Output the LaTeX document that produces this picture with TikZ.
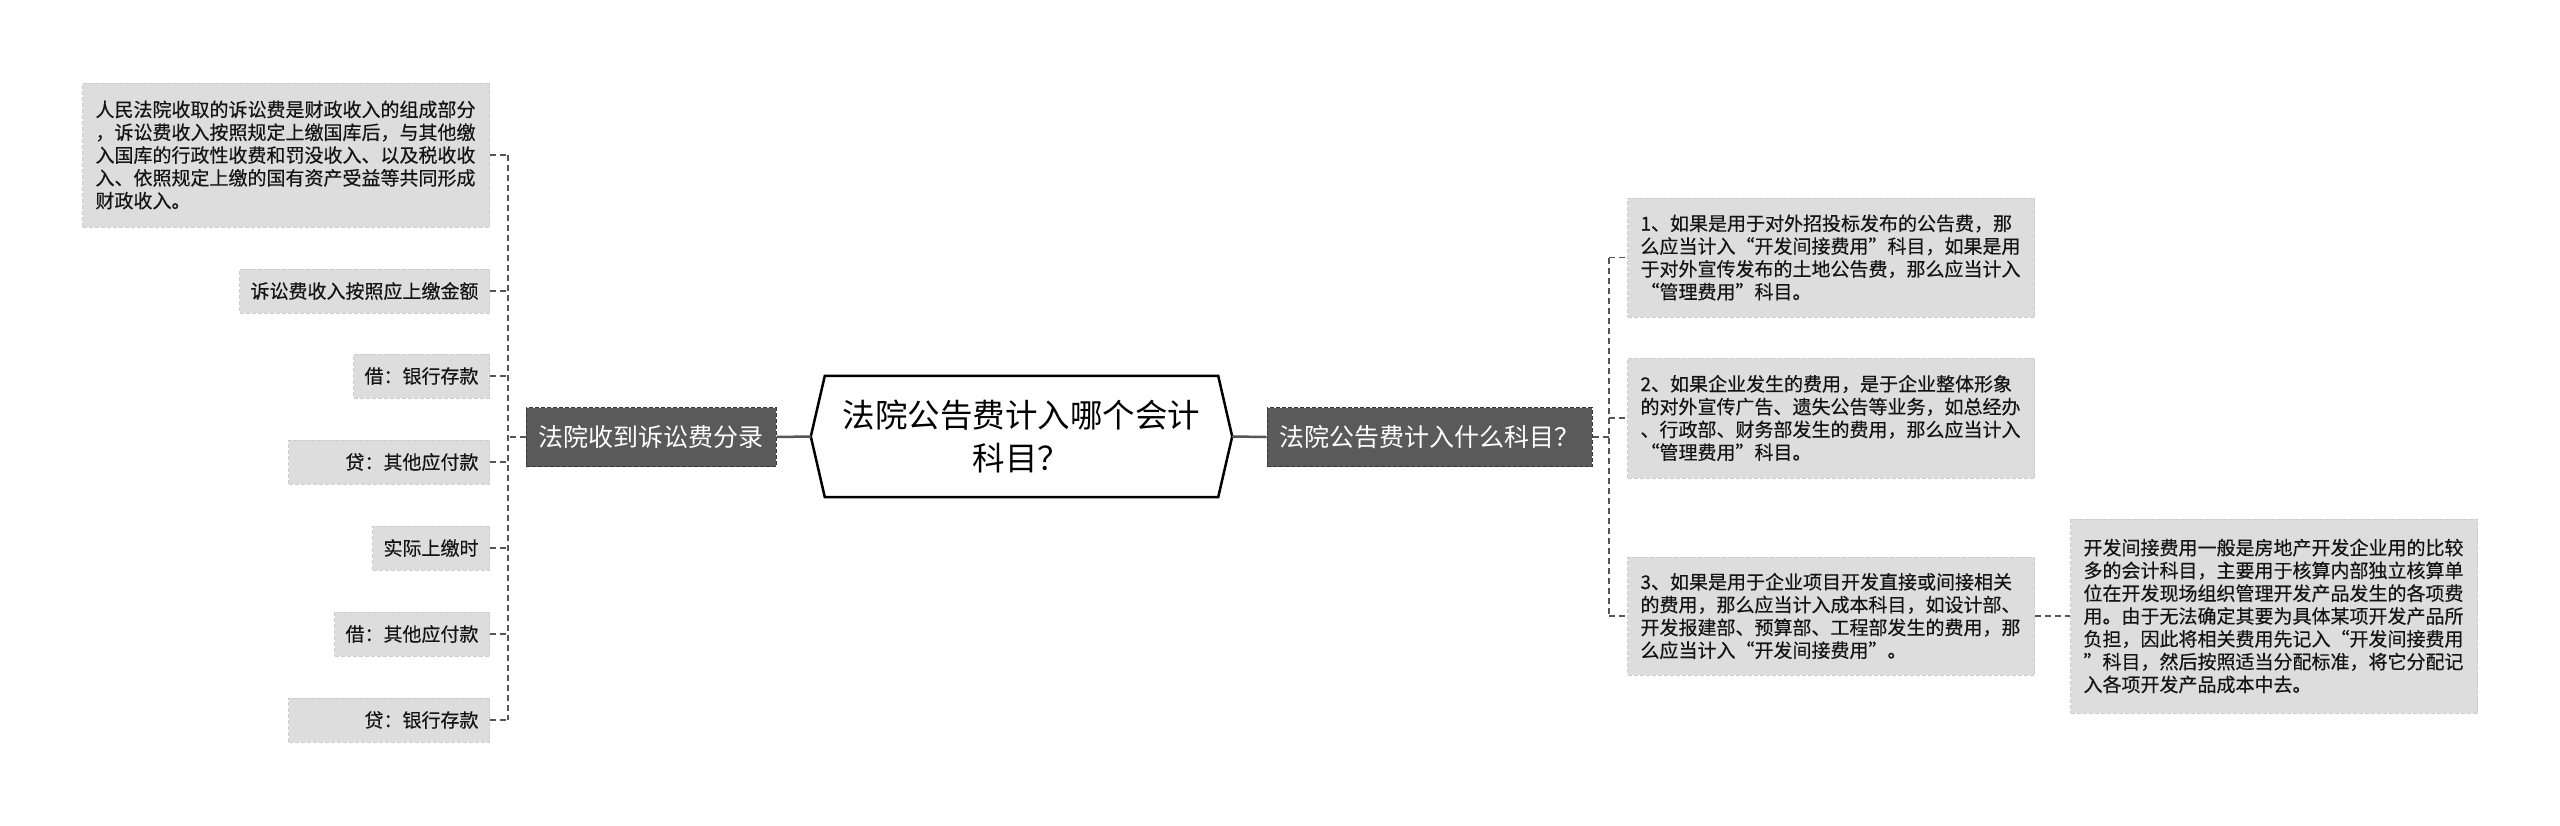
\documentclass[tikz,border=0pt]{standalone}
\usepackage{fontspec}
\newfontfamily\cjk{Noto Sans CJK SC}
\newfontfamily\cjkleaf[FakeBold=0.35]{Noto Sans CJK SC}
\usetikzlibrary{calc}
\definecolor{leaffill}{RGB}{221,221,221}
\definecolor{leafline}{RGB}{204,204,204}
\definecolor{mainfill}{RGB}{90,90,90}
\definecolor{mainline}{RGB}{55,55,55}
\definecolor{linkcol}{RGB}{85,85,85}
\definecolor{txt}{RGB}{20,20,20}
\tikzset{
  leaf/.style={fill=leaffill, draw=leafline, dash pattern=on 4pt off 2pt, line width=1pt,
    font=\cjkleaf\fontsize{19}{22.8}\selectfont, text=txt, inner xsep=11pt, inner ysep=0pt,
    minimum height=44pt},
  bigleaf/.style={leaf, text width=381pt, align=left, inner xsep=13pt},
  mainbox/.style={fill=mainfill, draw=mainline, dash pattern=on 4pt off 2pt, line width=1pt,
    text=white, font=\cjk\fontsize{25}{30}\selectfont, minimum height=59pt, inner sep=0pt},
  link/.style={draw=linkcol, line width=1.5pt, dash pattern=on 6pt off 4pt},
  solidlink/.style={draw=linkcol, line width=2.5pt},
  hexline/.style={draw=black, fill=white, line width=2.5pt, line join=miter}
}
\begin{document}
\begin{tikzpicture}[x=1pt,y=-1pt]
\useasboundingbox[fill=white] (0,0) rectangle (2560,825);

% centre
\node[minimum width=421pt, minimum height=121pt, inner sep=0pt] (c) at (1021.5,436.5) {};
\draw[hexline] (c.west) -- ($(c.north west)+(14,0)$) -- ($(c.north east)+(-14,0)$) -- (c.east)
  -- ($(c.south east)+(-14,0)$) -- ($(c.south west)+(14,0)$) -- cycle;
\node[align=center, font=\cjk\fontsize{32.5}{43}\selectfont, text=black, inner sep=0pt] (ct) at (c.center)
  {法院公告费计入哪个会计\\科目？};

% main nodes
\node[mainbox, minimum width=250pt] (lm) at (651,437) {法院收到诉讼费分录};
\node[mainbox, minimum width=325pt] (rm) at (1429.5,437) {法院公告费计入什么科目？};
\draw[solidlink] (lm.east) -- (c.west);
\draw[solidlink] (c.east) -- (rm.west);

% left leaves
\node[bigleaf, anchor=east, minimum height=144pt] (l1) at (490,155) {人民法院收取的诉讼费是财政收入的组成部分\\，诉讼费收入按照规定上缴国库后，与其他缴\\入国库的行政性收费和罚没收入、以及税收收\\入、依照规定上缴的国有资产受益等共同形成\\财政收入。};
\node[leaf, anchor=east] (l2) at (490,291) {诉讼费收入按照应上缴金额};
\node[leaf, anchor=east] (l3) at (490,376) {借：银行存款};
\node[leaf, anchor=east, text width=179pt, align=right] (l4) at (490,462) {贷：其他应付款};
\node[leaf, anchor=east] (l5) at (490,548) {实际上缴时};
\node[leaf, anchor=east] (l6) at (490,634) {借：其他应付款};
\node[leaf, anchor=east, text width=179pt, align=right] (l7) at (490,720) {贷：银行存款};

\coordinate (ls) at (508,437);
\draw[link] (lm.west) -- (ls);
\draw[link] (l1.east -| ls) -- (l7.east -| ls);
\foreach \n in {l1,l2,l3,l4,l5,l6,l7}{
  \draw[link] (\n.east) -- (\n.east -| ls);
}

% right leaves
\node[bigleaf, anchor=west, minimum height=119pt] (r1) at (1627,257.5) {1、如果是用于对外招投标发布的公告费，那\\么应当计入“开发间接费用”科目，如果是用\\于对外宣传发布的土地公告费，那么应当计入\\“管理费用”科目。};
\node[bigleaf, anchor=west, minimum height=120pt] (r2) at (1627,418) {2、如果企业发生的费用，是于企业整体形象\\的对外宣传广告、遗失公告等业务，如总经办\\、行政部、财务部发生的费用，那么应当计入\\“管理费用”科目。};
\node[bigleaf, anchor=west, minimum height=118pt] (r3) at (1627,616) {3、如果是用于企业项目开发直接或间接相关\\的费用，那么应当计入成本科目，如设计部、\\开发报建部、预算部、工程部发生的费用，那\\么应当计入“开发间接费用”。};
\node[bigleaf, anchor=west, minimum height=194pt] (r4) at (2070,616) {开发间接费用一般是房地产开发企业用的比较\\多的会计科目，主要用于核算内部独立核算单\\位在开发现场组织管理开发产品发生的各项费\\用。由于无法确定其要为具体某项开发产品所\\负担，因此将相关费用先记入“开发间接费用\\”科目，然后按照适当分配标准，将它分配记\\入各项开发产品成本中去。};

\coordinate (rs) at (1609,437);
\draw[link] (rm.east) -- (rs);
\draw[link] (r1.west -| rs) -- (r3.west -| rs);
\foreach \n in {r1,r2,r3}{
  \draw[link] (\n.west -| rs) -- (\n.west);
}
\draw[link] (r3.east) -- (r4.west);
\end{tikzpicture}
\end{document}
